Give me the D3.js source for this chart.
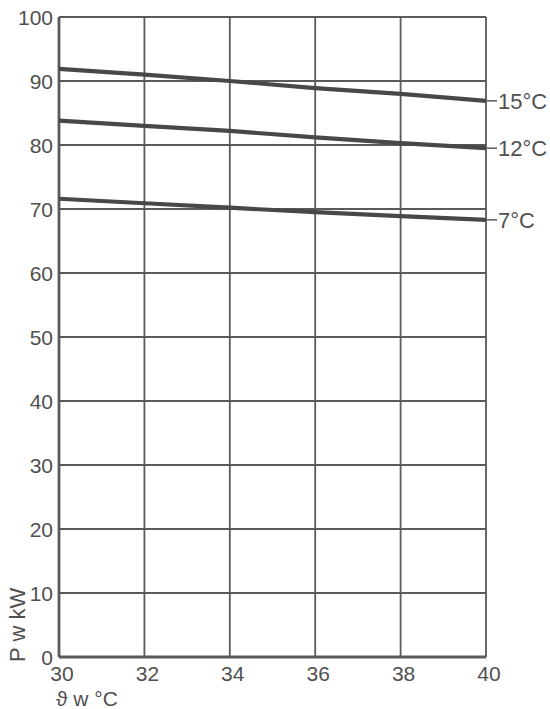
<!DOCTYPE html>
<html>
<head>
<meta charset="utf-8">
<script src="https://cdn.jsdelivr.net/npm/d3@7"></script>
<style>
  html, body { margin: 0; padding: 0; background: #fff; }
  svg { display: block; font-family: "Liberation Sans", Arial, sans-serif; }
</style>
</head>
<body>
<svg id="chart" width="550" height="709"></svg>
<script>
// Water temperature (°C) on the x axis
const temps = [30, 32, 34, 36, 38, 40];
// Power output (kW) for each outlet temperature
const seriesNames = ["15°C", "12°C", "7°C"];
const power15 = [91.9, 91.0, 90.0, 88.9, 88.0, 86.9];
const power12 = [83.8, 83.0, 82.2, 81.2, 80.3, 79.5];
const power7  = [71.6, 70.9, 70.2, 69.5, 68.9, 68.3];
const xTicks = [30, 32, 34, 36, 38, 40];
const yTicks = [0, 10, 20, 30, 40, 50, 60, 70, 80, 90, 100];

const series = [power15, power12, power7];

(function draw() {
  const svg = d3.select("#chart");
  const m = { left: 59, right: 486, top: 17, bottom: 657 };

  const x = d3.scaleLinear().domain([30, 40]).range([m.left, m.right]);
  const y = d3.scaleLinear().domain([0, 100]).range([m.bottom, m.top]);

  const gridColor = "#5a5a5a";
  const textColor = "#505050";

  // grid
  const grid = svg.append("g");
  grid.selectAll("line.h").data(yTicks).join("line").attr("class", "h")
    .attr("x1", m.left).attr("x2", m.right)
    .attr("y1", d => y(d)).attr("y2", d => y(d))
    .attr("stroke", gridColor).attr("stroke-width", 1.8);
  grid.selectAll("line.v").data(xTicks).join("line").attr("class", "v")
    .attr("y1", m.top).attr("y2", m.bottom)
    .attr("x1", d => x(d)).attr("x2", d => x(d))
    .attr("stroke", gridColor).attr("stroke-width", 1.8);

  // frame: left and bottom axes slightly heavier
  svg.append("line").attr("x1", m.left).attr("x2", m.left).attr("y1", m.top).attr("y2", m.bottom)
    .attr("stroke", gridColor).attr("stroke-width", 2.8);
  svg.append("line").attr("x1", m.left).attr("x2", m.right).attr("y1", m.bottom).attr("y2", m.bottom)
    .attr("stroke", gridColor).attr("stroke-width", 2.8);

  // tick labels
  svg.append("g").selectAll("text").data(yTicks).join("text")
    .attr("x", m.left - 6).attr("y", d => y(d) + 7.5)
    .attr("text-anchor", "end").attr("font-size", 21).attr("fill", textColor)
    .text(d => d);
  svg.append("g").selectAll("text").data(xTicks).join("text")
    .attr("x", d => x(d) + 3).attr("y", 681)
    .attr("text-anchor", "middle").attr("font-size", 21).attr("fill", textColor)
    .text(d => d);

  // curves
  const line = d3.line().x((d, i) => x(temps[i])).y(d => y(d));
  svg.append("g").selectAll("path").data(series).join("path")
    .attr("d", line).attr("fill", "none")
    .attr("stroke", "#484848").attr("stroke-width", 4.2);

  // series labels with leader ticks
  const lab = svg.append("g");
  series.forEach((s, i) => {
    const yy = y(s[s.length - 1]);
    lab.append("line").attr("x1", m.right).attr("x2", m.right + 11)
      .attr("y1", yy).attr("y2", yy).attr("stroke", gridColor).attr("stroke-width", 1.5);
    lab.append("text").attr("x", m.right + 12).attr("y", yy + 8)
      .attr("font-size", 22).attr("fill", textColor).text(seriesNames[i]);
  });

  // axis titles
  svg.append("text").attr("transform", `translate(25,662) rotate(-90)`)
    .attr("font-size", 22).attr("fill", textColor).text("P w kW");
  svg.append("text").attr("x", 56).attr("y", 706)
    .attr("font-size", 21).attr("fill", textColor).text("ϑ w °C");
})();
</script>
</body>
</html>
